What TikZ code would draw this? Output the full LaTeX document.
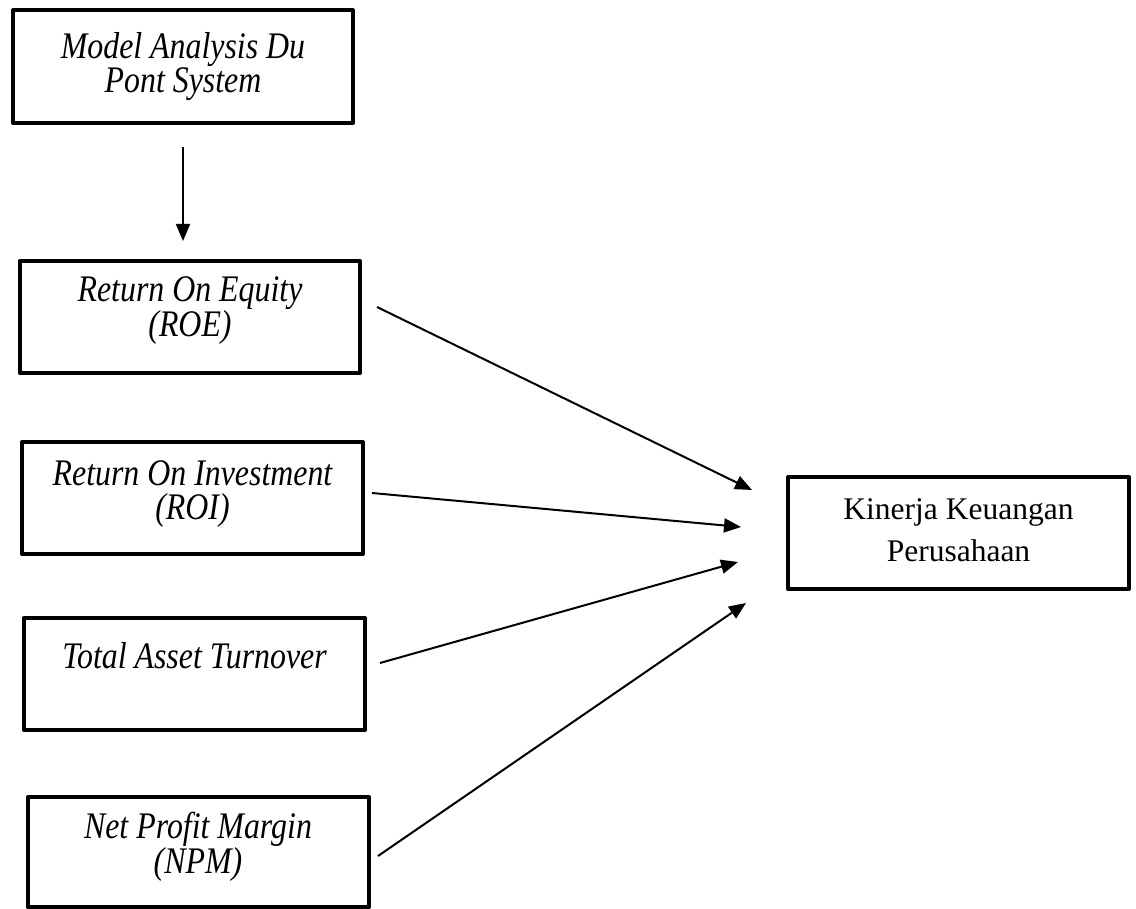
\documentclass[tikz,border=0pt]{standalone}
\usepackage{fontspec}
\setmainfont{Liberation Serif}
\newfontfamily\stit[FakeStretch=0.85]{Liberation Serif Italic}
\usetikzlibrary{arrows.meta}
\begin{document}
\begin{tikzpicture}[x=1pt,y=-1pt,
  boxstyle/.style={draw=black,line width=4pt,line join=round},
  lbl/.style={anchor=base,inner sep=0pt,align=center,font=\stit\fontsize{37.5}{34}\selectfont},
  lblr/.style={anchor=base,inner sep=0pt,align=center,font=\fontsize{31.5}{42}\selectfont},
  arr/.style={line width=2pt,-{Triangle[length=17pt,width=14pt]}}]
\useasboundingbox (0,0) rectangle (1136,909);
% boxes
\draw[boxstyle] (13,10.5) rectangle (353,123);
\draw[boxstyle] (19.7,261) rectangle (360,373);
\draw[boxstyle] (22,442) rectangle (363,554);
\draw[boxstyle] (23.7,618) rectangle (365,730);
\draw[boxstyle] (27.7,797) rectangle (369,907);
\draw[boxstyle] (788,477) rectangle (1129,589);
% texts (base anchor = baseline of last line)
\node[lbl] (m) at (183,92.5) {Model Analysis Du\\Pont System};
\node[lbl] (roe) at (190,337) {Return On Equity\\(ROE)};
\node[lbl] (roi) at (192.5,519) {Return On Investment\\(ROI)};
\node[lbl] (tat) at (194.5,668) {Total Asset Turnover};
\node[lbl] (npm) at (198,873) {Net Profit Margin\\(NPM)};
\node[lblr] (k) at (958.5,561) {Kinerja Keuangan\\Perusahaan};
% connector ends
\coordinate (a0s) at (183,147);
\coordinate (a0e) at (183,241);
\coordinate (roeS) at (377,307);
\coordinate (roeE) at (752,490);
\coordinate (roiS) at (372,493);
\coordinate (roiE) at (741,527);
\coordinate (tatS) at (380,663);
\coordinate (tatE) at (738,562);
\coordinate (npmS) at (378,856);
\coordinate (npmE) at (746,603);
\draw[arr] (a0s) -- (a0e);
\draw[arr] (roeS) -- (roeE);
\draw[arr] (roiS) -- (roiE);
\draw[arr] (tatS) -- (tatE);
\draw[arr] (npmS) -- (npmE);
\end{tikzpicture}
\end{document}
